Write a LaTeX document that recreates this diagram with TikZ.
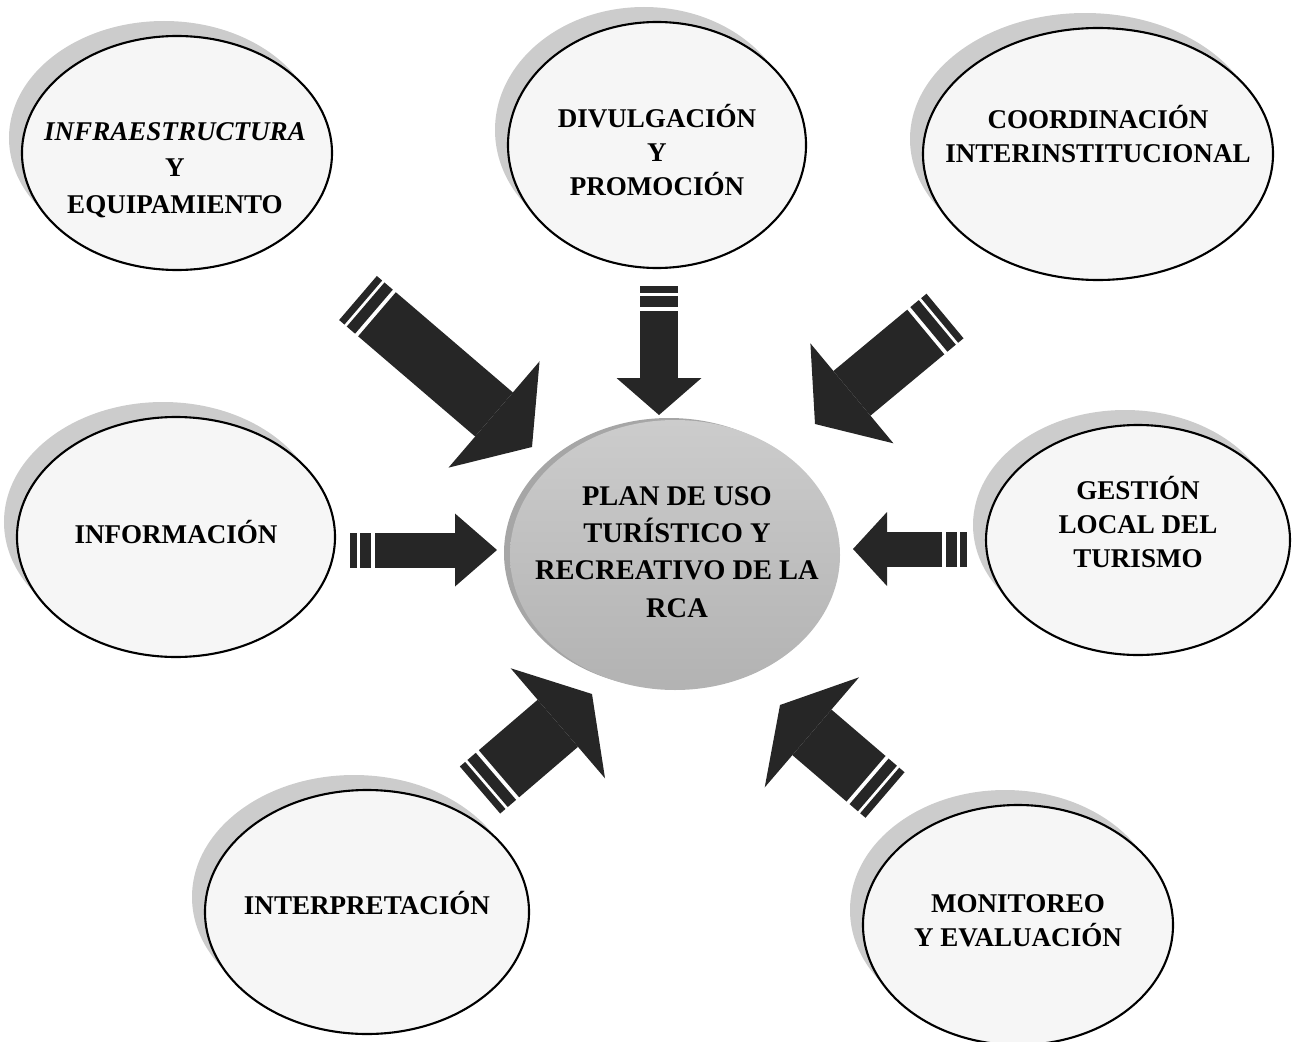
\documentclass[tikz,border=0pt]{standalone}
\usepackage{fontspec}
\setmainfont{Liberation Serif}
\usetikzlibrary{shapes.geometric,arrows.meta,calc,shadows}

\tikzset{
  burbuja/.style={ellipse, draw, line width=0.6pt, fill=gray!7, inner sep=0pt,
    drop shadow={shadow xshift=-0.13cm, shadow yshift=0.15cm, fill=gray!40, opacity=1}},
  centro/.style={ellipse, top color=gray!40, bottom color=gray!60, inner sep=0pt,
    drop shadow={shadow xshift=-0.06cm, shadow yshift=0.02cm, fill=gray!70, opacity=1}},
  texto/.style={align=center, inner sep=0pt, font=\fontsize{7.7}{9.6}\selectfont\bfseries},
  barra/.style={line width=#1, draw=black!85},
}

% flecha con dos franjas: cola, punta, ancho, ancho de la cabeza, largo de la cabeza
\newcommand{\flecha}[5]{%
  \draw[barra=#3] (#1) -- ($(#1)!0.07cm!(#2)$);
  \draw[barra=#3] ($(#1)!0.10cm!(#2)$) -- ($(#1)!0.21cm!(#2)$);
  \draw[barra=#3, -{Triangle[width=#4, length=#5, line width=0pt]}] ($(#1)!0.25cm!(#2)$) -- (#2);
}

\begin{document}
\begin{tikzpicture}
    \useasboundingbox (0,0) rectangle (12.96,10.41);

    % elipses
    \node[burbuja, minimum width=3.10cm, minimum height=2.34cm] (infra) at (1.77,8.88) {};
    \node[burbuja, minimum width=2.98cm, minimum height=2.46cm] (divul) at (6.57,8.96) {};
    \node[burbuja, minimum width=3.50cm, minimum height=2.52cm] (coord) at (10.98,8.87) {};
    \node[burbuja, minimum width=3.18cm, minimum height=2.40cm] (info) at (1.76,5.04) {};
    \node[burbuja, minimum width=3.04cm, minimum height=2.30cm] (gest) at (11.38,5.01) {};
    \node[burbuja, minimum width=3.24cm, minimum height=2.44cm] (interp) at (3.67,1.29) {};
    \node[burbuja, minimum width=3.10cm, minimum height=2.40cm] (monit) at (10.18,1.16) {};
    \node[centro, minimum width=3.30cm, minimum height=2.70cm] (plan) at (6.75,4.86) {};

    % textos
    \node[texto, font=\fontsize{7.7}{10.4}\selectfont\bfseries] (infra-t) at (1.75,8.71) {\textit{INFRAESTRUCTURA}\\Y\\EQUIPAMIENTO};
    \node[texto] (divul-t) at (6.57,8.91) {DIVULGACIÓN\\Y\\PROMOCIÓN};
    \node[texto] (coord-t) at (10.98,9.07) {COORDINACIÓN\\INTERINSTITUCIONAL};
    \node[texto] (info-t) at (1.76,5.09) {INFORMACIÓN};
    \node[texto] (gest-t) at (11.38,5.19) {GESTIÓN\\LOCAL DEL\\TURISMO};
    \node[texto] (interp-t) at (3.67,1.38) {INTERPRETACIÓN};
    \node[texto] (monit-t) at (10.18,1.20) {MONITOREO\\Y EVALUACIÓN};
    \node[texto, font=\fontsize{8.1}{10.6}\selectfont\bfseries] (plan-t) at (6.77,4.89) {PLAN DE USO\\TURÍSTICO Y\\RECREATIVO DE LA\\RCA};

    % extremos de las flechas
    \coordinate (c1) at (3.58,7.43);  \coordinate (p1) at (5.32,5.94);
    \coordinate (c2) at (6.59,7.55);  \coordinate (p2) at (6.59,6.26);
    \coordinate (c3) at (9.45,7.25);  \coordinate (p3) at (8.15,6.17);
    \coordinate (c4) at (3.50,4.91);  \coordinate (p4) at (4.97,4.91);
    \coordinate (c5) at (9.67,4.92);  \coordinate (p5) at (8.53,4.92);
    \coordinate (c6) at (4.80,2.51);  \coordinate (p6) at (5.92,3.47);
    \coordinate (c7) at (8.85,2.46);  \coordinate (p7) at (7.80,3.36);

    \flecha{c1}{p1}{0.58cm}{1.40cm}{0.50cm}
    \flecha{c2}{p2}{0.38cm}{0.85cm}{0.37cm}
    \flecha{c3}{p3}{0.58cm}{1.30cm}{0.48cm}
    \flecha{c4}{p4}{0.35cm}{0.73cm}{0.42cm}
    \flecha{c5}{p5}{0.35cm}{0.74cm}{0.34cm}
    \flecha{c6}{p6}{0.62cm}{1.45cm}{0.45cm}
    \flecha{c7}{p7}{0.60cm}{1.45cm}{0.42cm}
\end{tikzpicture}
\end{document}
